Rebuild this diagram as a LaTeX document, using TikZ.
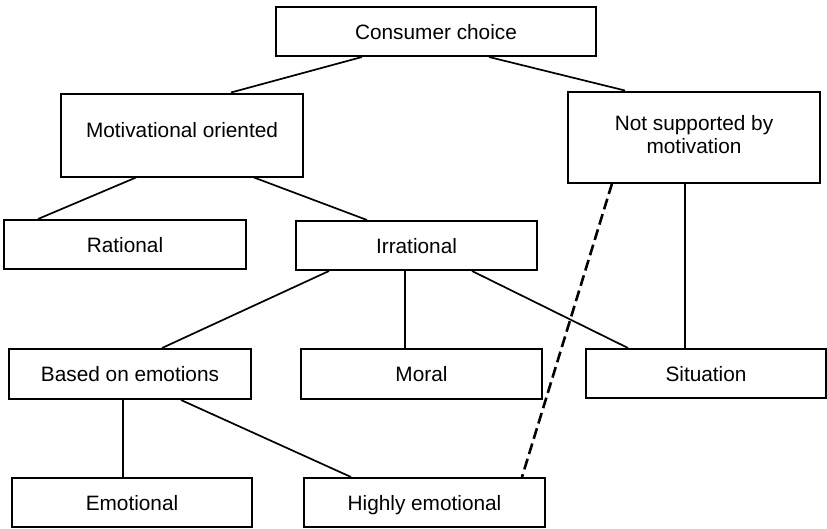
\documentclass[tikz,border=0pt]{standalone}
\usepackage{fontspec}
\setmainfont{Liberation Sans}
\begin{document}
\begin{tikzpicture}[x=1pt,y=-1pt,
  box/.style={draw, line width=2pt, rectangle, inner sep=0pt,
    minimum width=241pt, minimum height=49pt,
    font=\fontsize{20.8}{23}\selectfont, text height=15pt, text depth=0pt},
  conn/.style={line width=1.7pt},
  dconn/.style={line width=2.6pt, dash pattern=on 11pt off 5pt}]
\useasboundingbox (0,0) rectangle (827,528);
% nodes
\node[box, minimum width=320pt] (cons) at (436,31.5) {Consumer choice};
\node[box, minimum width=242pt, minimum height=83pt, text depth=11pt] (mot) at (182,135) {Motivational oriented};
\node[box, minimum width=252pt, minimum height=91pt, align=center, text height=32pt, text depth=0pt] (not) at (694,137) {Not supported by\\motivation};
\node[box, minimum width=242pt] (rat) at (125,244.5) {Rational};
\node[box] (irr) at (416.5,245.5) {Irrational};
\node[box, minimum width=242pt, minimum height=50pt] (bas) at (130,374) {Based on emotions};
\node[box, minimum height=50pt] (mor) at (421.5,374) {Moral};
\node[box, minimum width=240pt] (sit) at (706,373.5) {Situation};
\node[box, minimum width=240pt] (emo) at (132,502.5) {Emotional};
\node[box] (hig) at (424.5,502.5) {Highly emotional};
% connectors
\draw[conn] ([xshift=87pt]cons.south west) -- ([xshift=171pt]mot.north west);
\draw[conn] ([xshift=214pt]cons.south west) -- ([xshift=58pt]not.north west);
\draw[conn] ([xshift=76pt]mot.south west) -- ([xshift=35pt]rat.north west);
\draw[conn] ([xshift=194pt]mot.south west) -- ([xshift=72pt]irr.north west);
\draw[conn] ([xshift=34pt]irr.south west) -- ([xshift=154pt]bas.north west);
\draw[conn] ([xshift=110pt]irr.south west) -- ([xshift=105pt]mor.north west);
\draw[conn] ([xshift=177pt]irr.south west) -- ([xshift=43pt]sit.north west);
\draw[conn] ([xshift=118pt]not.south west) -- ([xshift=100pt]sit.north west);
\draw[dconn] ([xshift=45pt]not.south west) -- ([xshift=219pt]hig.north west);
\draw[conn] ([xshift=115pt]bas.south west) -- ([xshift=112pt]emo.north west);
\draw[conn] ([xshift=173pt]bas.south west) -- ([xshift=48pt]hig.north west);
\end{tikzpicture}
\end{document}
